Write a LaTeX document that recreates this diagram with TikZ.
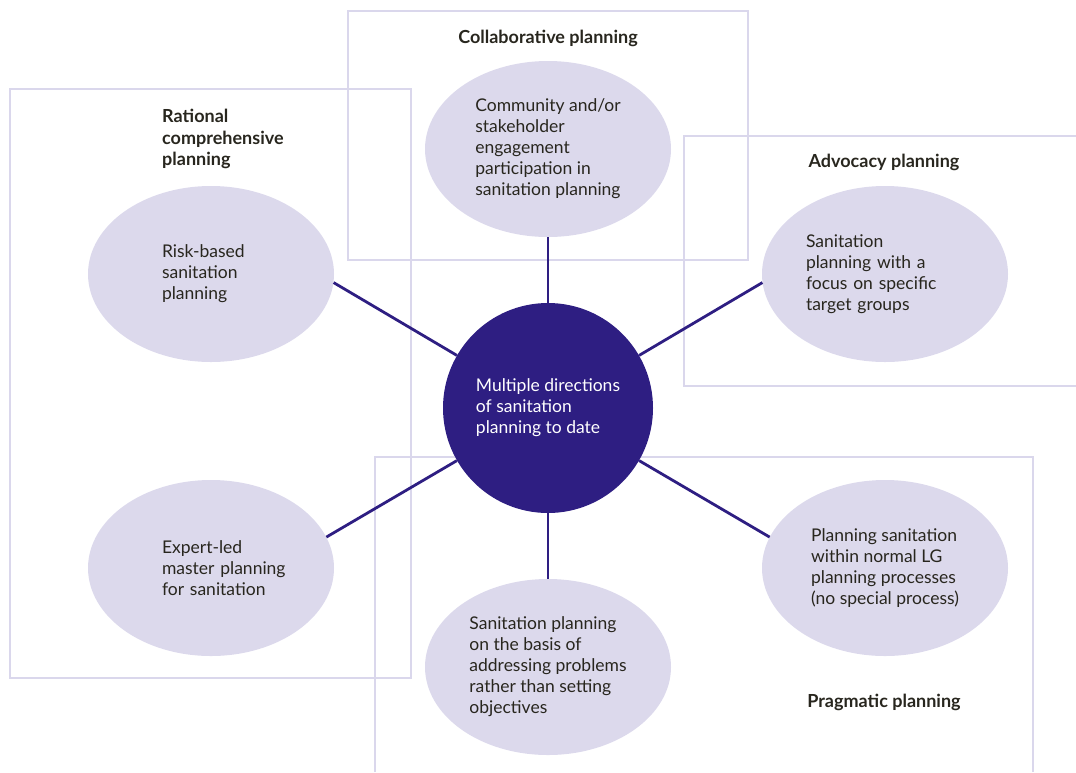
\documentclass[tikz,border=0pt]{standalone}
\usepackage{fontspec}
\setmainfont{Lato}
\usetikzlibrary{shapes.geometric,positioning}
\definecolor{framecol}{RGB}{218,215,236}
\definecolor{bubblecol}{RGB}{220,217,236}
\definecolor{hubcol}{RGB}{46,30,130}
\definecolor{inkcol}{RGB}{40,38,30}

\begin{document}
\begin{tikzpicture}[
x=1pt,y=-1pt,
font=\fontsize{17.5}{21}\selectfont,
group/.style={draw=framecol,line width=2.6pt},
title/.style={font=\fontsize{18}{21.5}\selectfont\bfseries,text=inkcol,align=left,inner sep=0pt},
bubble/.style={ellipse,fill=bubblecol,minimum width=246pt,minimum height=176pt,inner sep=0pt,text=inkcol,align=left},
hub/.style={circle,fill=hubcol,minimum size=210pt,inner sep=0pt,text=white,align=left},
link/.style={draw=hubcol,line width=2.8pt}]

\useasboundingbox (0,0) rectangle (1076,772);

\draw[group] (348,11) rectangle (748,260);
\draw[group] (10,89) rectangle (411,678);
\draw[group] (1076,136) -- (684,136) -- (684,386) -- (1076,386);
\draw[group] (375,772) -- (375,457) -- (1033,457) -- (1033,772);

\node[title] (collab) at (548,38) {Collaborative planning};
\node[title,anchor=west] (rational) at (162,139) {Rational\\comprehensive\\planning};
\node[title] (advocacy) at (884,162) {Advocacy planning};
\node[title] (pragmatic) at (884,702) {Pragmatic planning};

\node[bubble] (community) at (548,149) {Community and/or\\stakeholder\\engagement\\participation in\\sanitation planning};
\node[bubble,text width=98pt] (risk) at (211,274) {Risk-based\\sanitation\\planning};
\node[bubble,text width=158pt] (focus) at (885,274) {Sanitation\\planning with a\\focus on specific\\target groups};
\node[bubble,text width=98pt] (expert) at (211,568) {Expert-led\\\mbox{master planning}\\\mbox{for sanitation}};
\node[bubble] (normal) at (885,568) {Planning sanitation\\within normal LG\\planning processes\\(no special process)};
\node[bubble] (problems) at (548,667) {Sanitation planning\\on the basis of\\addressing problems\\rather than setting\\objectives};
\node[hub] (hub) at (548,408) {Multiple directions\\of sanitation\\planning to date};

\draw[link] (hub.north) -- (community.south);
\draw[link] (hub.150) -- (risk.-4);
\draw[link] (hub.30) -- (focus.184);
\draw[link] (hub.210) -- (expert.15);
\draw[link] (hub.330) -- (normal.165);
\draw[link] (hub.south) -- (problems.north);
\end{tikzpicture}
\end{document}
